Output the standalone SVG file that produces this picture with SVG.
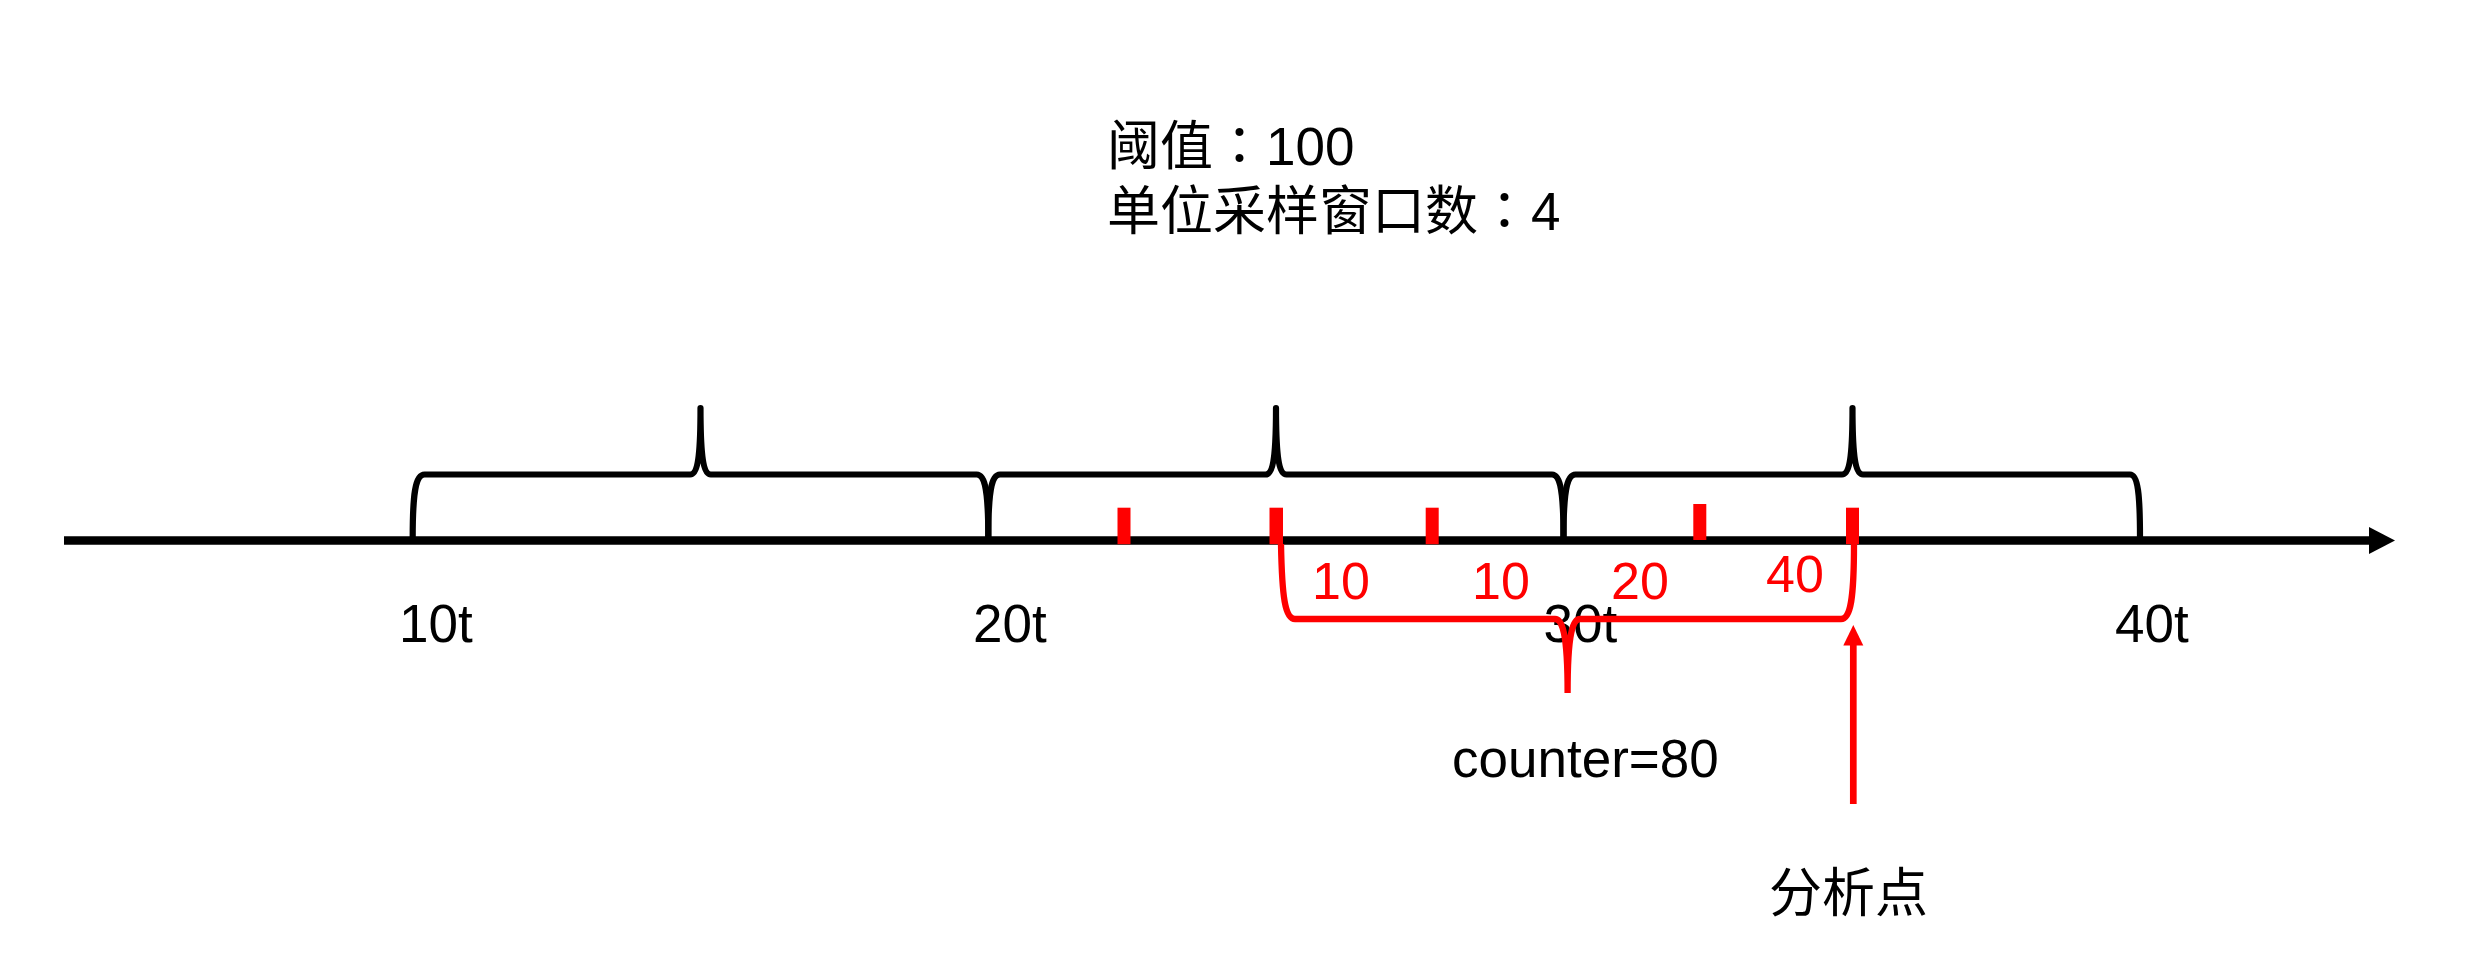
<svg xmlns="http://www.w3.org/2000/svg" width="2474" height="970" viewBox="0 0 2474 970">
<style>
  text { font-family: "Liberation Sans", "Noto Sans CJK SC", sans-serif; font-size: 53px; fill: #000; }
  .colon { font-family: "Noto Sans CJK TC", "Noto Sans CJK SC", sans-serif; }
  .red { fill: #FF0000; font-size: 52px; }
  .brace { fill: none; stroke: #000; stroke-width: 6.2; stroke-linecap: butt; stroke-linejoin: round; }
  .rbrace { fill: none; stroke: #FF0000; stroke-width: 6.3; stroke-linecap: butt; stroke-linejoin: round; }
  .tick { fill: #FF0000; }
</style>
<rect width="2474" height="970" fill="#FFFFFF"/>

<g id="title">
  <text x="1107" y="165">阈值<tspan class="colon">：</tspan>100</text>
  <text x="1107" y="230">单位采样窗口数<tspan class="colon">：</tspan>4</text>
</g>

<g id="axis">
  <line x1="64" y1="540.5" x2="2372" y2="540.5" stroke="#000" stroke-width="8.7"/>
  <polygon points="2369,527 2395,540.5 2369,554" fill="#000"/>
</g>

<g id="window-1">
  <path class="brace" d="M412.7,537 C412.7,495 415,474.5 424.5,474.5 L690.2,474.5 C696.5,474.5 700.5,462 700.5,408 C700.5,462 704.5,474.5 710.8,474.5 L976.7,474.5 C986,474.5 988.3,495 988.3,537"/>
</g>
<g id="window-2">
  <path class="brace" d="M988.3,537 C988.3,495 990.6,474.5 1000,474.5 L1265.6,474.5 C1272,474.5 1276,462 1276,408 C1276,462 1280,474.5 1286.4,474.5 L1552,474.5 C1561,474.5 1563.5,495 1563.5,537"/>
</g>
<g id="window-3">
  <path class="brace" d="M1563.5,537 C1563.5,495 1566,474.5 1575.5,474.5 L1842,474.5 C1848.5,474.5 1852.5,462 1852.5,408 C1852.5,462 1856.5,474.5 1863,474.5 L2130,474.5 C2138,474.5 2140,495 2140,537"/>
</g>

<g id="samples">
  <rect class="tick" x="1117.5" y="507.7" width="13" height="36.5"/>
  <rect class="tick" x="1269.5" y="507.7" width="13.5" height="36.5"/>
  <rect class="tick" x="1425.7" y="507.7" width="13" height="36.5"/>
  <rect class="tick" x="1693.3" y="504" width="13" height="36"/>
  <rect class="tick" x="1846" y="507.7" width="13" height="36.5"/>
</g>

<g id="sample-values">
  <text class="red" x="1312" y="599">10</text>
  <text class="red" x="1472" y="599">10</text>
  <text class="red" x="1611" y="599">20</text>
  <text class="red" x="1766" y="592">40</text>
</g>

<g id="time-labels">
  <text x="399" y="642">10t</text>
  <text x="973" y="642">20t</text>
  <text x="1543.5" y="642">30t</text>
  <text x="2115" y="642">40t</text>
</g>

<g id="counter-brace">
  <path class="rbrace" d="M1281,544 C1282,597 1285,619 1295,619 L1555,619 C1562,619 1567.6,632 1567.6,693 M1567.6,693 C1567.6,632 1573,619 1580,619 L1841,619 C1851,619 1854,597 1854,544"/>
</g>

<g id="counter-label">
  <text x="1452" y="777">counter=80</text>
</g>

<g id="connectors">
  <line x1="1853.3" y1="804" x2="1853.3" y2="642" stroke="#FF0000" stroke-width="6.7"/>
  <polygon points="1843.3,645.5 1853.3,625 1863.3,645.5" fill="#FF0000"/>
</g>

<g id="analysis-point">
  <text x="1769" y="912">分析点</text>
</g>
</svg>
